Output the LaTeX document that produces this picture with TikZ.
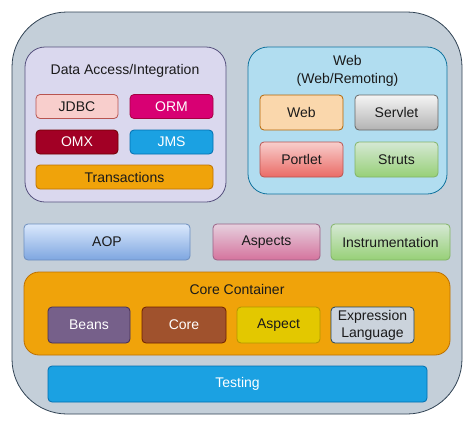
\documentclass[tikz,border=0pt]{standalone}
\usepackage{fontspec}
\setmainfont{Liberation Sans}
\usetikzlibrary{calc}
\definecolor{OuterClr}{HTML}{C4CFD9}
\definecolor{OuterLine}{HTML}{314354}
\definecolor{DataClr}{HTML}{DAD8EE}
\definecolor{DataLine}{HTML}{56517E}
\definecolor{WebBoxClr}{HTML}{B1DDF0}
\definecolor{WebBoxLine}{HTML}{10739E}
\definecolor{JdbcClr}{HTML}{F8CECC}
\definecolor{JdbcLine}{HTML}{B85450}
\definecolor{OrmClr}{HTML}{D80073}
\definecolor{OrmLine}{HTML}{A50040}
\definecolor{OmxClr}{HTML}{A20025}
\definecolor{OmxLine}{HTML}{6F0000}
\definecolor{JmsClr}{HTML}{1BA1E2}
\definecolor{JmsLine}{HTML}{006EAF}
\definecolor{OrangeClr}{HTML}{F0A30A}
\definecolor{OrangeLine}{HTML}{BD7000}
\definecolor{WebClr}{HTML}{FAD7AC}
\definecolor{WebLine}{HTML}{B46504}
\definecolor{GreyLine}{HTML}{666666}
\definecolor{GreenLine}{HTML}{82B366}
\definecolor{BlueLine}{HTML}{6C8EBF}
\definecolor{PinkLine}{HTML}{996185}
\definecolor{BeansClr}{HTML}{76608A}
\definecolor{BeansLine}{HTML}{432D57}
\definecolor{CoreClr}{HTML}{A0522D}
\definecolor{CoreLine}{HTML}{6D1F00}
\definecolor{AspectClr}{HTML}{E3C800}
\definecolor{AspectLine}{HTML}{B09500}
\definecolor{ExprClr}{HTML}{CBD3DC}
\definecolor{ExprLine}{HTML}{23445D}
\definecolor{TextClr}{HTML}{1A1A1A}

\begin{document}
\begin{tikzpicture}[x=1pt,y=-1pt,
  box/.style={draw,line width=0.8pt,rounded corners=4pt,inner sep=0pt,
    minimum width=83pt,minimum height=35pt,font=\fontsize{14}{15}\selectfont,
    text=TextClr,align=center},
  flat/.style={box,minimum height=24pt},
  group/.style={draw,line width=0.8pt,inner sep=0pt},
  title/.style={font=\fontsize{14}{18}\selectfont,text=TextClr,align=center}]
\useasboundingbox (0,0) rectangle (474,426);

\node[group,fill=OuterClr,draw=OuterLine,rounded corners=55pt,minimum width=450pt,minimum height=402pt] (outer) at (237,213) {};

\node[group,fill=DataClr,draw=DataLine,rounded corners=20pt,minimum width=201pt,minimum height=155pt] (data) at (125.5,124.5) {};
\node[title] (dataT) at (125,71) {Data Access/Integration};
\node[flat,fill=JdbcClr,draw=JdbcLine,minimum width=82pt] (jdbc) at (77,106.5) {JDBC};
\node[flat,fill=OrmClr,draw=OrmLine,text=white] (orm) at (171.5,106.5) {ORM};
\node[flat,fill=OmxClr,draw=OmxLine,text=white,minimum width=82pt] (omx) at (77,142) {OMX};
\node[flat,fill=JmsClr,draw=JmsLine,text=white] (jms) at (171.5,142) {JMS};
\node[flat,fill=OrangeClr,draw=OrangeLine,minimum width=177pt] (trans) at (124.5,177) {Transactions};

\node[group,fill=WebBoxClr,draw=WebBoxLine,rounded corners=20pt,minimum width=199pt,minimum height=147pt] (webbox) at (347.5,120.5) {};
\node[title] (webT) at (347.5,71) {Web\\(Web/Remoting)};
\node[box,fill=WebClr,draw=WebLine] (web) at (301.5,112.5) {Web};
\node[box,top color=white!96!black,bottom color=black!30,draw=GreyLine] (servlet) at (396.5,112.5) {Servlet};
\node[box,top color=JdbcClr,bottom color={rgb,255:red,234;green,107;blue,102},draw=JdbcLine] (portlet) at (301.5,159.5) {Portlet};
\node[box,top color={rgb,255:red,213;green,232;blue,212},bottom color={rgb,255:red,151;green,208;blue,119},draw=GreenLine] (struts) at (396.5,159.5) {Struts};

\node[box,top color={rgb,255:red,218;green,232;blue,252},bottom color={rgb,255:red,126;green,166;blue,224},draw=BlueLine,minimum width=166pt,minimum height=36pt] (aop) at (107,242) {AOP};
\node[box,top color={rgb,255:red,230;green,208;blue,222},bottom color={rgb,255:red,213;green,115;blue,157},draw=PinkLine,minimum width=107pt,minimum height=36pt] (aspects) at (266.5,242) {Aspects};
\node[box,top color={rgb,255:red,213;green,232;blue,212},bottom color={rgb,255:red,151;green,208;blue,119},draw=GreenLine,minimum width=119pt,minimum height=36pt] (instr) at (390.5,242) {Instrumentation};

\node[group,fill=OrangeClr,draw=OrangeLine,rounded corners=15pt,minimum width=426pt,minimum height=83pt] (corebox) at (237,313.5) {};
\node[title] (coreT) at (237,289) {Core Container};
\node[box,fill=BeansClr,draw=BeansLine,text=white,minimum width=82pt,minimum height=36pt] (beans) at (89,325) {Beans};
\node[box,fill=CoreClr,draw=CoreLine,text=white,minimum width=84pt,minimum height=36pt] (core) at (184,325) {Core};
\node[box,fill=AspectClr,draw=AspectLine,minimum height=36pt] (aspect) at (278.5,325) {Aspect};
\node[box,fill=ExprClr,draw=ExprLine,minimum height=36pt,font=\fontsize{14}{17}\selectfont] (expr) at (372.5,325) {Expression\\Language};

\node[box,fill=JmsClr,draw=JmsLine,text=white,minimum width=379pt,minimum height=36pt] (testing) at (237.5,384) {Testing};
\end{tikzpicture}
\end{document}
